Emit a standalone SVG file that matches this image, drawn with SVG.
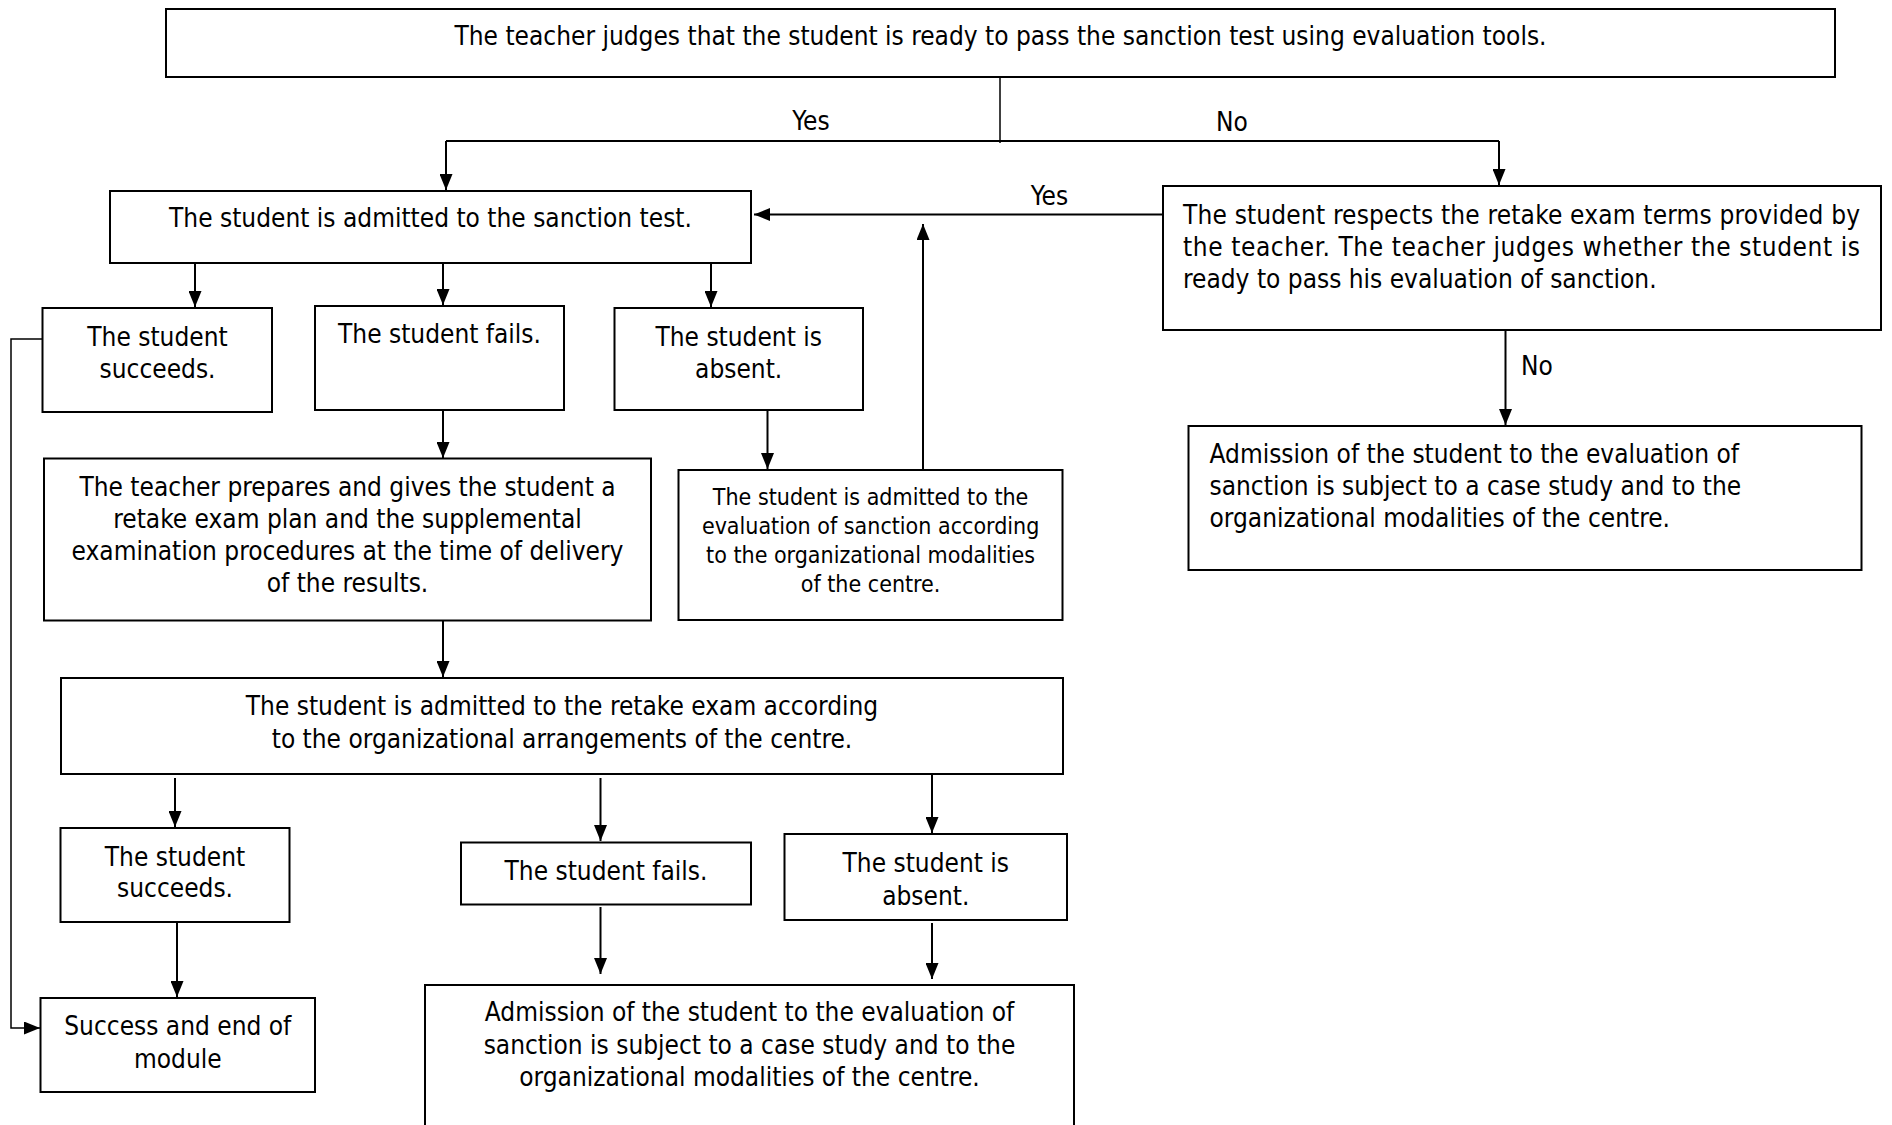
<svg xmlns="http://www.w3.org/2000/svg" width="1892" height="1125" viewBox="0 0 1892 1125">
<defs>
<style>
.box{fill:#fff;stroke:#000;stroke-width:2}
.t{font-family:"DejaVu Sans Condensed","DejaVu Sans",sans-serif;font-stretch:condensed;font-size:26px;fill:#000}
.c{text-anchor:middle}
.s{font-size:23px}
.ln{stroke:#000;stroke-width:2;fill:none}
.thin{stroke:#000;stroke-width:1.5;fill:none}
</style>
<marker id="ah" markerUnits="userSpaceOnUse" markerWidth="16" markerHeight="13" refX="16" refY="6.5" orient="auto">
<path d="M0,0 L16,6.5 L0,13 z" fill="#000"/>
</marker>
</defs>
<rect width="1892" height="1125" fill="#fff"/>
<g id="connectors">
<path class="thin" d="M1000,77 V143"/>
<path class="ln" d="M446,141 H1499"/>
<path class="ln" d="M446,141 V190" marker-end="url(#ah)"/>
<path class="ln" d="M1499,141 V185" marker-end="url(#ah)"/>
<path class="ln" d="M1163,214.5 H754" marker-end="url(#ah)"/>
<path class="ln" d="M923,470 V224" marker-end="url(#ah)"/>
<path class="ln" d="M195,263 V307" marker-end="url(#ah)"/>
<path class="ln" d="M443,263 V305" marker-end="url(#ah)"/>
<path class="ln" d="M711,263 V307" marker-end="url(#ah)"/>
<path class="ln" d="M443,406 V458" marker-end="url(#ah)"/>
<path class="ln" d="M767.5,406 V469" marker-end="url(#ah)"/>
<path class="ln" d="M443,620 V677" marker-end="url(#ah)"/>
<path class="ln" d="M175,778 V827" marker-end="url(#ah)"/>
<path class="ln" d="M600.5,778 V841" marker-end="url(#ah)"/>
<path class="ln" d="M932,774 V833" marker-end="url(#ah)"/>
<path class="ln" d="M177,922 V997" marker-end="url(#ah)"/>
<path class="ln" d="M600.5,907 V974" marker-end="url(#ah)"/>
<path class="ln" d="M932,923 V979" marker-end="url(#ah)"/>
<path class="ln" d="M1505.5,327 V425" marker-end="url(#ah)"/>
<path class="thin" d="M42.5,339 H11 V1028 H40" marker-end="url(#ah)"/>
<text class="t c" x="811" y="130">Yes</text>
<text class="t c" x="1232" y="131">No</text>
<text class="t c" x="1049.5" y="205">Yes</text>
<text class="t" x="1521" y="375">No</text>
</g>
<g id="n-top">
<rect class="box" x="166" y="9" width="1669" height="68"/>
<text class="t c" x="1000.5" y="45">The teacher judges that the student is ready to pass the sanction test using evaluation tools.</text>
</g>
<g id="n-sanction">
<rect class="box" x="110" y="191" width="641" height="72"/>
<text class="t c" x="430.5" y="227">The student is admitted to the sanction test.</text>
</g>
<g id="n-respects">
<rect class="box" x="1163" y="186" width="718" height="144"/>
<text class="t" x="1183" y="224" textLength="677" lengthAdjust="spacing">The student respects the retake exam terms provided by</text>
<text class="t" x="1183" y="256" textLength="677" lengthAdjust="spacing">the teacher. The teacher judges whether the student is</text>
<text class="t" x="1183" y="288">ready to pass his evaluation of sanction.</text>
</g>
<g id="n-succeeds1">
<rect class="box" x="42.5" y="308" width="229.5" height="104"/>
<text class="t c" x="157.5" y="345.5">The student</text>
<text class="t c" x="157.5" y="378">succeeds.</text>
</g>
<g id="n-fails1">
<rect class="box" x="315" y="306" width="249" height="104"/>
<text class="t c" x="439.5" y="343">The student fails.</text>
</g>
<g id="n-absent1">
<rect class="box" x="614.5" y="308" width="248.5" height="102"/>
<text class="t c" x="738.7" y="345.5">The student is</text>
<text class="t c" x="738.7" y="378">absent.</text>
</g>
<g id="n-prepares">
<rect class="box" x="44" y="458.5" width="607" height="162"/>
<text class="t c" x="347.5" y="495.5">The teacher prepares and gives the student a</text>
<text class="t c" x="347.5" y="528">retake exam plan and the supplemental</text>
<text class="t c" x="347.5" y="560">examination procedures at the time of delivery</text>
<text class="t c" x="347.5" y="592">of the results.</text>
</g>
<g id="n-eval">
<rect class="box" x="678.5" y="470" width="384" height="150"/>
<text class="t c s" x="870.6" y="505">The student is admitted to the</text>
<text class="t c s" x="870.6" y="534">evaluation of sanction according</text>
<text class="t c s" x="870.6" y="563">to the organizational modalities</text>
<text class="t c s" x="870.6" y="592">of the centre.</text>
</g>
<g id="n-admission-right">
<rect class="box" x="1188.5" y="426" width="673" height="144"/>
<text class="t" x="1209.5" y="463">Admission of the student to the evaluation of</text>
<text class="t" x="1209.5" y="495">sanction is subject to a case study and to the</text>
<text class="t" x="1209.5" y="527">organizational modalities of the centre.</text>
</g>
<g id="n-retake">
<rect class="box" x="61" y="678" width="1002" height="96"/>
<text class="t c" x="562" y="715">The student is admitted to the retake exam according</text>
<text class="t c" x="562" y="748">to the organizational arrangements of the centre.</text>
</g>
<g id="n-succeeds2">
<rect class="box" x="60.5" y="828" width="229" height="94"/>
<text class="t c" x="175" y="865.5">The student</text>
<text class="t c" x="175" y="897">succeeds.</text>
</g>
<g id="n-fails2">
<rect class="box" x="461" y="842.5" width="290" height="62"/>
<text class="t c" x="606" y="879.5">The student fails.</text>
</g>
<g id="n-absent2">
<rect class="box" x="784.5" y="834" width="282.5" height="86"/>
<text class="t c" x="925.8" y="872">The student is</text>
<text class="t c" x="925.8" y="905">absent.</text>
</g>
<g id="n-success-end">
<rect class="box" x="40.5" y="998" width="274.5" height="94"/>
<text class="t c" x="177.8" y="1035">Success and end of</text>
<text class="t c" x="177.8" y="1067.5">module</text>
</g>
<g id="n-admission-bottom">
<rect class="box" x="425" y="985" width="649" height="160"/>
<text class="t c" x="749.5" y="1021">Admission of the student to the evaluation of</text>
<text class="t c" x="749.5" y="1054">sanction is subject to a case study and to the</text>
<text class="t c" x="749.5" y="1086">organizational modalities of the centre.</text>
</g>
</svg>
